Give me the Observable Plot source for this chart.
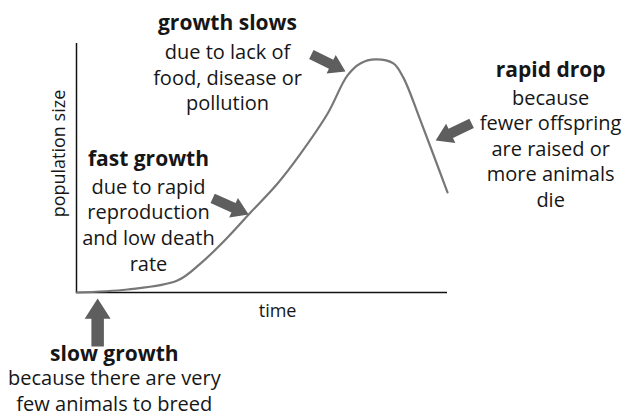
<!DOCTYPE html>
<html>
<head>
<meta charset="utf-8">
<script src="https://cdn.jsdelivr.net/npm/d3@7"></script>
<script src="https://cdn.jsdelivr.net/npm/@observablehq/plot@0.6"></script>
<style>
  html, body { margin: 0; padding: 0; background: #fff; }
</style>
</head>
<body>
<div id="chart"></div>
<script>
// ---- Data (time and population on a 0–100 relative scale) ----
const curveTime = [0, 13.7, 27.2, 33.4, 40.7, 46.9, 54.2, 60.4, 67.7, 73.0, 76.5, 80.6, 85.4, 88.1, 92.7, 100];
const curvePop  = [0, 1.2, 4.8, 11.6, 22.1, 32.1, 43.8, 55.8, 71.9, 87.1, 92.0, 93.6, 92.0, 86.3, 69.1, 40.2];

// annotation labels
const noteTitles = ["growth slows", "fast growth", "rapid drop", "slow growth"];
const noteBodies = [
  "due to lack of\nfood, disease or\npollution",
  "due to rapid\nreproduction\nand low death\nrate",
  "because\nfewer offspring\nare raised or\nmore animals\ndie",
  "because there are very\nfew animals to breed"
];
const noteX      = [40.7, 19.4, 127.8, 10.2];
const noteTitleY = [105.6, 51.0, 86.5, -27.5];
const noteBodyY  = [73.1, 8.8, 34.3, -47.6];

// arrows: tail -> tip
const arrowX1 = [63.3, 36.7, 106.5, 5.7];
const arrowY1 = [95.6, 37.8, 67.9, -21.7];
const arrowX2 = [72.5, 46.4, 96.8, 5.7];
const arrowY2 = [88.8, 31.3, 61.0, -2.4];

const xLabel = "time";
const yLabel = "population size";

// ---- Layout ----
const W = 625, H = 417, mL = 76, mR = 178, mT = 43, mB = 125;
const kx = (W - mL - mR) / 100, ky = (H - mT - mB) / 100;

const curve = curveTime.map((t, i) => ({time: t, pop: curvePop[i]}));
const notes = noteTitles.map((t, i) => ({title: t, body: noteBodies[i], x: noteX[i], ty: noteTitleY[i], by: noteBodyY[i]}));

// build block-arrow polygons (shape computed in pixel space, mapped back to data units)
const arrowPolys = [];
arrowX1.forEach((x1, i) => {
  const y1 = arrowY1[i], x2 = arrowX2[i], y2 = arrowY2[i];
  const dx = (x2 - x1) * kx, dy = -(y2 - y1) * ky;
  const L = Math.hypot(dx, dy);
  const ux = dx / L, uy = dy / L, nx = -uy, ny = ux;
  const hl = 0.42 * L, hw = 0.27 * L, sw = 0.13 * L;
  const pts = [
    [nx * sw, ny * sw],
    [ux * (L - hl) + nx * sw, uy * (L - hl) + ny * sw],
    [ux * (L - hl) + nx * hw, uy * (L - hl) + ny * hw],
    [ux * L, uy * L],
    [ux * (L - hl) - nx * hw, uy * (L - hl) - ny * hw],
    [ux * (L - hl) - nx * sw, uy * (L - hl) - ny * sw],
    [-nx * sw, -ny * sw]
  ];
  pts.forEach(([px, py]) => arrowPolys.push({id: i, x: x1 + px / kx, y: y1 - py / ky}));
});

const ink = "#161616";
const font = "'Open Sans', sans-serif";

const chart = Plot.plot({
  width: W, height: H,
  marginLeft: mL, marginRight: mR, marginTop: mT, marginBottom: mB,
  x: {domain: [0, 100], axis: null},
  y: {domain: [0, 100], axis: null},
  style: {fontFamily: font, background: "#fff", color: ink},
  marks: [
    Plot.ruleX([0], {y1: 0, y2: 100, stroke: "#111", strokeWidth: 1.5}),
    Plot.ruleY([0], {x1: 0, x2: 100, stroke: "#111", strokeWidth: 1.5}),
    Plot.line(curve, {x: "time", y: "pop", curve: "catmull-rom", stroke: "#777", strokeWidth: 2.2}),
    Plot.line(arrowPolys, {x: "x", y: "y", z: "id", fill: "#5e5e5e", stroke: "none", curve: "linear"}),
    Plot.text(notes, {x: "x", y: "ty", text: "title", fontSize: 21, fontWeight: 700, fill: ink, lineAnchor: "bottom", textAnchor: "middle", fontFamily: font}),
    Plot.text(notes, {x: "x", y: "by", text: "body", fontSize: 20, fontWeight: 400, fill: ink, lineAnchor: "bottom", lineHeight: 1.28, textAnchor: "middle", fontFamily: font}),
    Plot.text([xLabel], {x: 54.2, y: -9.9, text: d => d, fontSize: 18, fill: ink, lineAnchor: "bottom", fontFamily: font}),
    Plot.text([yLabel], {x: -3.2, y: 55.8, text: d => d, rotate: -90, fontSize: 18, fill: ink, lineAnchor: "bottom", fontFamily: font})
  ]
});
document.getElementById("chart").appendChild(chart);
</script>
</body>
</html>
